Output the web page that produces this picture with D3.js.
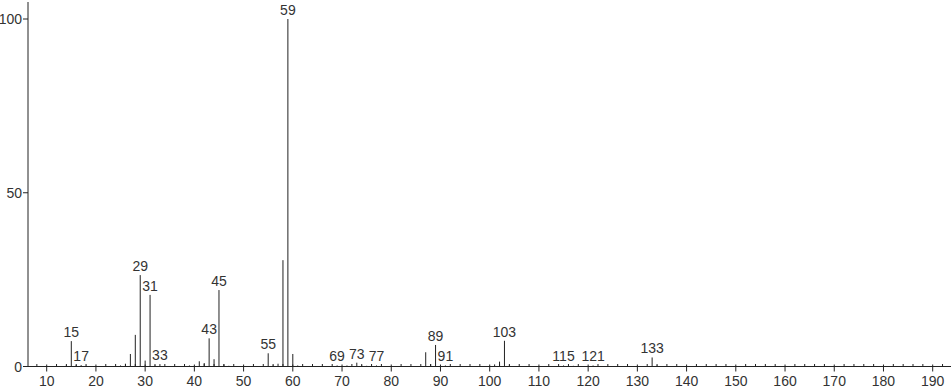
<!DOCTYPE html>
<html lang="en">
<head>
    <meta charset="UTF-8">
    <title>Mass spectrum</title>
    <style>
        body {
            margin: 0;
            padding: 0;
            background-color: #fff;
            overflow: hidden;
        }
        text {
            font-family: "Liberation Sans", Arial, sans-serif;
            font-size: 14px;
            fill: #333;
        }
    </style>
</head>
<body>
    <div id="chart"></div>

    <script src="https://d3js.org/d3.v7.min.js"></script>
    <script>
        // m/z values and relative intensities
        const mz = [14, 15, 16, 17, 18, 25, 26, 27, 28, 29, 30, 31, 32, 33, 39, 40, 41, 42, 43, 44,
                    45, 46, 47, 55, 56, 57, 58, 59, 60, 61, 69, 71, 73, 74, 75, 77, 87, 88, 89, 90,
                    91, 101, 102, 103, 104, 115, 117, 121, 133, 134];
        const intensity = [0.3, 7.3, 0.4, 0.4, 0.2, 0.3, 0.8, 3.6, 9.1, 26.3, 1.7, 20.6, 0.3, 0.7, 0.3, 0.2, 1.5, 1.0, 8.1, 2.1,
                           22.0, 0.6, 0.2, 3.8, 0.3, 0.8, 30.6, 100, 3.6, 0.3, 0.3, 0.3, 1.1, 0.3, 0.2, 0.3, 4.1, 0.7, 6.2, 0.3,
                           0.3, 0.6, 1.4, 7.4, 0.3, 0.3, 0.2, 0.3, 2.6, 0.3];
        // peaks that carry a label
        const labelled = [15, 17, 29, 31, 33, 43, 45, 55, 59, 69, 73, 77, 89, 91, 103, 115, 121, 133];
        const xTicks = [10, 20, 30, 40, 50, 60, 70, 80, 90, 100, 110, 120, 130, 140, 150, 160, 170, 180, 190];
        const yTicks = [0, 50, 100];

        const width = 951, height = 389;
        const ink = "#222";

        const peaks = mz.map((m, i) => ({ mz: m, value: intensity[i] }));

        const x = d3.scaleLinear().domain([10, 190]).range([46.7, 932.7]);
        const y = d3.scaleLinear().domain([0, 100]).range([366.5, 19]);

        const svg = d3.select("#chart")
            .append("svg")
            .attr("width", width)
            .attr("height", height);

        // x axis: line, major ticks below, minor ticks above
        const xAxis = svg.append("g");
        xAxis.append("line")
            .attr("x1", 28).attr("x2", width)
            .attr("y1", y(0)).attr("y2", y(0))
            .attr("stroke", ink);

        const minor = d3.range(8, 194, 2).filter(v => v % 10 !== 0);
        xAxis.selectAll(".minor")
            .data(minor)
            .enter()
            .append("line")
            .attr("class", "minor")
            .attr("x1", d => x(d)).attr("x2", d => x(d))
            .attr("y1", y(0) - 2.5).attr("y2", y(0))
            .attr("stroke", ink);

        xAxis.selectAll(".major")
            .data(xTicks)
            .enter()
            .append("line")
            .attr("class", "major")
            .attr("x1", d => x(d)).attr("x2", d => x(d))
            .attr("y1", y(0) - 2).attr("y2", y(0) + 5)
            .attr("stroke", ink);

        xAxis.selectAll(".xlabel")
            .data(xTicks)
            .enter()
            .append("text")
            .attr("class", "xlabel")
            .attr("x", d => x(d))
            .attr("y", 386)
            .attr("text-anchor", "middle")
            .text(d => d);

        // y axis
        const yAxis = svg.append("g");
        yAxis.append("line")
            .attr("x1", 28).attr("x2", 28)
            .attr("y1", 2).attr("y2", y(0))
            .attr("stroke", ink);

        yAxis.selectAll(".ytick")
            .data(yTicks)
            .enter()
            .append("line")
            .attr("x1", 23).attr("x2", 28)
            .attr("y1", d => y(d)).attr("y2", d => y(d))
            .attr("stroke", ink);

        yAxis.selectAll(".ylabel")
            .data(yTicks)
            .enter()
            .append("text")
            .attr("x", 22)
            .attr("y", d => y(d) + 5)
            .attr("text-anchor", "end")
            .text(d => d);

        // peaks
        svg.append("g")
            .selectAll("line")
            .data(peaks)
            .enter()
            .append("line")
            .attr("x1", d => x(d.mz)).attr("x2", d => x(d.mz))
            .attr("y1", y(0)).attr("y2", d => y(d.value))
            .attr("stroke", ink);

        // peak labels
        svg.append("g")
            .selectAll("text")
            .data(peaks.filter(d => labelled.includes(d.mz)))
            .enter()
            .append("text")
            .attr("x", d => x(d.mz))
            .attr("y", d => y(d.value) - 4)
            .attr("text-anchor", "middle")
            .text(d => d.mz);
    </script>
</body>
</html>
